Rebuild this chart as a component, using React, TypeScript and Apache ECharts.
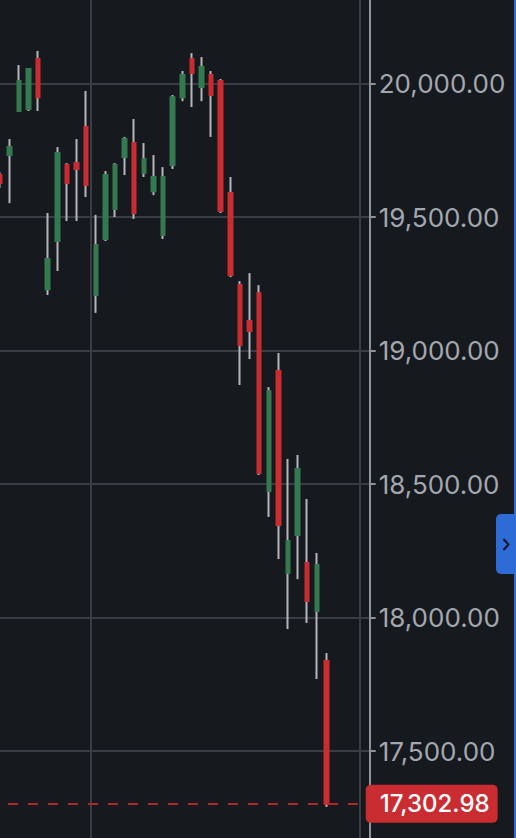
import React, { useEffect, useRef } from "react";
import * as echarts from "echarts";

const categories = [
  "1", "2", "3", "4", "5", "6", "7", "8", "9", "10",
  "11", "12", "13", "14", "15", "16", "17", "18", "19", "20",
  "21", "22", "23", "24", "25", "26", "27", "28", "29", "30",
  "31", "32", "33", "34", "35", "36", "37", "38", "39",
];

const opens = [
  19657, 19732, 19897, 19905, 20092, 19230, 19410, 19695, 19702, 19837,
  19208, 19418, 19530, 19725, 19777, 19665, 19597, 19433, 19695, 19949,
  20092, 19987, 20032, 20009, 19590, 19245, 19111, 19215, 18474, 18923,
  18167, 18309, 18204, 18025, 17837,
];
const closes = [
  19627, 19762, 20009, 20054, 19949, 19343, 19740, 19627, 19680, 19620,
  19395, 19657, 19695, 19792, 19515, 19717, 19650, 19650, 19949, 20032,
  20039, 20062, 19957, 19523, 19283, 19021, 19073, 18541, 18848, 18347,
  18287, 18556, 18062, 18197, 17302.98,
];
const lows = [
  19609, 19552, 19895, 19897, 19897, 19208, 19298, 19485, 19485, 19575,
  19141, 19410, 19500, 19657, 19493, 19650, 19582, 19418, 19680, 19934,
  19912, 19934, 19800, 19515, 19275, 18871, 18968, 18534, 18377, 18219,
  17957, 18144, 17980, 17770, 17291,
];
const highs = [
  19669, 19792, 20069, 20056, 20122, 19515, 19762, 19702, 19792, 19972,
  19508, 19672, 19702, 19800, 19867, 19777, 19732, 19687, 19957, 20047,
  20114, 20099, 20047, 20017, 19650, 19260, 19290, 19245, 18863, 18991,
  18594, 18609, 18444, 18242, 17867,
];

const yTicks = { min: 17000, max: 20500, step: 500 };
const lastPrice = 17302.98;

const fmt = (v: number) =>
  v.toLocaleString("en-US", { minimumFractionDigits: 2, maximumFractionDigits: 2 });

export default function App() {
  const ref = useRef<HTMLDivElement>(null);

  useEffect(() => {
    if (!ref.current) return;
    const chart = echarts.init(ref.current, undefined, { renderer: "svg" });

    const wickData = opens.map((o, i) => [o, closes[i], lows[i], highs[i]]);
    const bodyData = opens.map((o, i) => [
      o,
      closes[i],
      Math.min(o, closes[i]),
      Math.max(o, closes[i]),
    ]);

    const red = "#c92d31";
    const green = "#357a4f";
    const wick = "#b4b7bc";
    const gridColor = "#3a3e44";
    const axisColor = "#8e949c";

    chart.setOption({
      animation: false,
      backgroundColor: "#16191e",
      grid: {
        left: -5.115,
        right: 146.3,
        top: -50,
        bottom: -46.6,
        containLabel: false,
        outerBoundsMode: "none",
      },
      xAxis: {
        type: "category",
        data: categories,
        boundaryGap: true,
        axisLine: { show: false },
        axisTick: { show: false },
        axisLabel: { show: false },
        splitLine: {
          show: true,
          interval: (i: number) => i === 10 || i === 38,
          lineStyle: { color: gridColor, width: 2 },
        },
      },
      yAxis: {
        type: "value",
        position: "right",
        min: yTicks.min,
        max: yTicks.max,
        interval: yTicks.step,
        axisLine: { show: true, lineStyle: { color: axisColor, width: 2 } },
        axisTick: { show: true, length: 6, lineStyle: { color: axisColor, width: 2 } },
        axisLabel: {
          margin: 9,
          color: "#a3a8b0",
          fontSize: 26,
          fontFamily: "Inter",
          showMinLabel: false,
          showMaxLabel: false,
          formatter: (v: number) => fmt(v),
        },
        splitLine: { show: true, lineStyle: { color: gridColor, width: 2 } },
      },
      series: [
        {
          type: "candlestick",
          name: "wick",
          data: wickData,
          barWidth: 1,
          itemStyle: {
            color: wick,
            color0: wick,
            borderColor: wick,
            borderColor0: wick,
            borderWidth: 2,
          },
          silent: true,
        },
        {
          type: "candlestick",
          name: "body",
          data: bodyData,
          barWidth: 4,
          itemStyle: {
            color: green,
            color0: red,
            borderColor: green,
            borderColor0: red,
            borderWidth: 2,
          },
          silent: true,
          markLine: {
            silent: true,
            symbol: ["none", "none"],
            data: [{ yAxis: lastPrice }],
            lineStyle: { color: "#b3272c", type: [10, 10], width: 2, dashOffset: 6.9 },
            label: {
              show: true,
              position: "end",
              distance: -4,
              formatter: () => fmt(lastPrice),
              backgroundColor: "#c92d31",
              color: "#ffffff",
              fontSize: 24,
              fontWeight: 500,
              fontFamily: "Inter",
              padding: [7, 8, 7, 14],
              borderRadius: 5,
            },
          },
        },
      ],
      graphic: [
        {
          type: "rect",
          shape: { x: 514, y: 0, width: 2, height: 838 },
          style: { fill: "#2d6bd6" },
          z: 100,
        },
        {
          type: "rect",
          shape: { x: 496, y: 514, width: 22, height: 60, r: [5, 0, 0, 5] },
          style: { fill: "#2d6bd6" },
          z: 100,
        },
        {
          type: "polyline",
          shape: { points: [[503.5, 539], [508.5, 544.5], [503.5, 550]] },
          style: { stroke: "#0e1626", lineWidth: 2, fill: "none" },
          z: 101,
        },
      ],
    });

    return () => chart.dispose();
  }, []);

  return (
    <div
      ref={ref}
      style={{ position: "fixed", left: 0, top: 0, width: 516, height: 838, background: "#16191e" }}
    />
  );
}
